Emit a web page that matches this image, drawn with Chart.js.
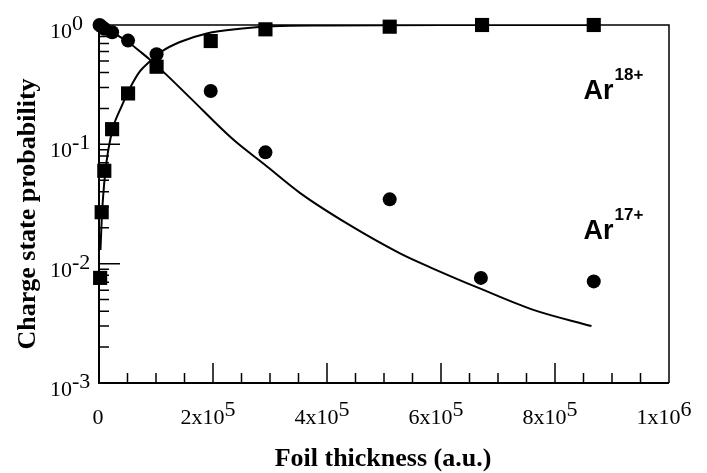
<!DOCTYPE html>
<html lang="en">
<head>
<meta charset="UTF-8">
<title>Charge state probability</title>
<script src="https://cdn.jsdelivr.net/npm/chart.js@4.4.1/dist/chart.umd.min.js"></script>
<style>
    body { margin: 0; background: #fff; }
    #wrap { width: 707px; height: 473px; }
</style>
</head>
<body>
<div id="wrap"><canvas id="chargeChart" width="707" height="473"></canvas></div>
<script>
    // measured points, foil thickness in a.u.
    const thick18 = [2000, 4700, 9300, 23000, 51000, 101000, 196000, 292000, 510000, 672000, 868000];
    const prob18  = [0.0076, 0.027, 0.060, 0.134, 0.267, 0.447, 0.734, 0.92, 0.968, 1.0, 1.0];
    const thick17 = [1000, 4700, 9300, 23000, 51000, 101000, 196000, 292000, 510000, 670000, 868000];
    const prob17  = [1.0, 0.97, 0.93, 0.87, 0.74, 0.568, 0.28, 0.0857, 0.0346, 0.0076, 0.0071];

    // calculated curves
    const fitThick18 = [2600, 5000, 7500, 11000, 16000, 25000, 40000, 55000, 72000, 90000, 110000, 142000, 189000, 247000, 305000, 400000, 600000, 864000];
    const fitProb18  = [0.013, 0.025, 0.038, 0.058, 0.088, 0.14, 0.21, 0.3, 0.41, 0.5, 0.6, 0.72, 0.85, 0.93, 0.975, 0.99, 1.0, 1.0];
    const fitThick17 = [0, 10000, 25000, 51000, 72000, 92000, 119000, 160000, 236000, 290000, 353000, 440000, 528000, 586000, 668000, 762000, 864000];
    const fitProb17  = [1.0, 0.95, 0.86, 0.72, 0.6, 0.5, 0.38, 0.245, 0.109, 0.068, 0.039, 0.021, 0.0122, 0.0091, 0.0062, 0.0041, 0.003];

    // tick labels (base + superscript)
    const xTickValues = [0, 2e5, 4e5, 6e5, 8e5, 1e6];
    const xTickBase   = ['0', '2x10', '4x10', '6x10', '8x10', '1x10'];
    const xTickExp    = ['', '5', '5', '5', '5', '6'];
    const yTickValues = [1, 0.1, 0.01, 0.001];
    const yTickExp    = ['0', '-1', '-2', '-3'];

    const toXY = (xs, ys) => xs.map((v, i) => ({x: v, y: ys[i]}));

    const serif = '"Liberation Serif", "Times New Roman", serif';
    const sans = '"Liberation Sans", Arial, sans-serif';

    // box, inward ticks, labels and titles
    const framePlugin = {
        id: 'frame',
        beforeDatasetsDraw(chart) {
            const {ctx, chartArea: a, scales: {x, y}} = chart;
            ctx.save();
            ctx.strokeStyle = '#000';
            ctx.lineWidth = 1.5;
            ctx.beginPath();
            ctx.moveTo(a.left, a.top);
            ctx.lineTo(a.right, a.top);
            ctx.lineTo(a.right, a.bottom);
            ctx.stroke();
            ctx.lineWidth = 2;
            ctx.beginPath();
            ctx.moveTo(a.left, a.top);
            ctx.lineTo(a.left, a.bottom);
            ctx.lineTo(a.right, a.bottom);
            ctx.stroke();

            // y ticks (log, inward)
            ctx.lineWidth = 1.5;
            ctx.beginPath();
            for (let e = -3; e < 0; e++) {
                for (let m = 1; m <= 9; m++) {
                    const py = y.getPixelForValue(m * Math.pow(10, e));
                    const len = m === 1 ? 21 : 10;
                    ctx.moveTo(a.left, py);
                    ctx.lineTo(a.left + len, py);
                }
            }
            // x ticks (inward)
            for (let v = 5e4; v < 1e6; v += 5e4) {
                const px = x.getPixelForValue(v);
                const len = Math.round(v / 5e4) % 4 === 0 ? 20 : 10;
                ctx.moveTo(px, a.bottom);
                ctx.lineTo(px, a.bottom - len);
            }
            ctx.stroke();
            ctx.restore();
        },
        afterDraw(chart) {
            const {ctx, chartArea: a, scales: {x, y}} = chart;
            ctx.save();
            ctx.fillStyle = '#000';
            ctx.textBaseline = 'alphabetic';

            // y tick labels
            ctx.font = '22px ' + serif;
            ctx.textAlign = 'left';
            yTickValues.forEach((v, i) => {
                const py = y.getPixelForValue(v);
                ctx.fillText('10', 50, py + 13);
                const w = ctx.measureText('10').width;
                ctx.fillText(yTickExp[i], 50 + w, py + 5);
            });

            // x tick labels
            xTickValues.forEach((v, i) => {
                const px = x.getPixelForValue(v);
                const wb = ctx.measureText(xTickBase[i]).width;
                const we = ctx.measureText(xTickExp[i]).width;
                const left = px - (wb + we) / 2 - (xTickExp[i] ? 5 : 1);
                ctx.fillText(xTickBase[i], left, a.bottom + 41);
                ctx.fillText(xTickExp[i], left + wb, a.bottom + 33);
            });

            // axis titles
            ctx.font = 'bold 26px ' + serif;
            ctx.textAlign = 'center';
            ctx.fillText('Foil thickness (a.u.)', (a.left + a.right) / 2 - 1, a.bottom + 83);
            ctx.save();
            ctx.translate(35, 214);
            ctx.rotate(-Math.PI / 2);
            ctx.font = 'bold 26px ' + serif;
            ctx.fillText('Charge state probability', 0, 0);
            ctx.restore();

            // series labels
            ctx.textAlign = 'left';
            [['Ar', '18+', 0.24], ['Ar', '17+', 0.016]].forEach(([base, sup, val]) => {
                const px = x.getPixelForValue(850000);
                const py = y.getPixelForValue(val);
                ctx.font = 'bold 27px ' + sans;
                ctx.fillText(base, px, py);
                const w = ctx.measureText(base).width;
                ctx.font = 'bold 17px ' + sans;
                ctx.fillText(sup, px + w + 1, py - 19);
            });
            ctx.restore();
        }
    };

    const ctx = document.getElementById('chargeChart').getContext('2d');
    const chargeChart = new Chart(ctx, {
        type: 'scatter',
        data: {
            datasets: [{
                label: 'Ar18+ calc',
                data: toXY(fitThick18, fitProb18),
                showLine: true,
                pointRadius: 0,
                borderColor: '#000',
                borderWidth: 2,
                cubicInterpolationMode: 'monotone'
            }, {
                label: 'Ar17+ calc',
                data: toXY(fitThick17, fitProb17),
                showLine: true,
                pointRadius: 0,
                borderColor: '#000',
                borderWidth: 2,
                cubicInterpolationMode: 'monotone'
            }, {
                label: 'Ar18+',
                data: toXY(thick18, prob18),
                pointStyle: 'rect',
                pointRadius: 10,
                backgroundColor: '#000',
                borderColor: '#000',
                borderWidth: 0,
                clip: false
            }, {
                label: 'Ar17+',
                data: toXY(thick17, prob17),
                pointStyle: 'circle',
                pointRadius: 7,
                backgroundColor: '#000',
                borderColor: '#000',
                borderWidth: 0,
                clip: false
            }]
        },
        options: {
            responsive: false,
            animation: false,
            layout: { padding: { left: 99, right: 38, top: 25, bottom: 90 } },
            plugins: { legend: { display: false }, tooltip: { enabled: false } },
            scales: {
                x: { type: 'linear', min: 0, max: 1e6, display: false },
                y: { type: 'logarithmic', min: 0.001, max: 1, display: false }
            }
        },
        plugins: [framePlugin]
    });
</script>
</body>
</html>
